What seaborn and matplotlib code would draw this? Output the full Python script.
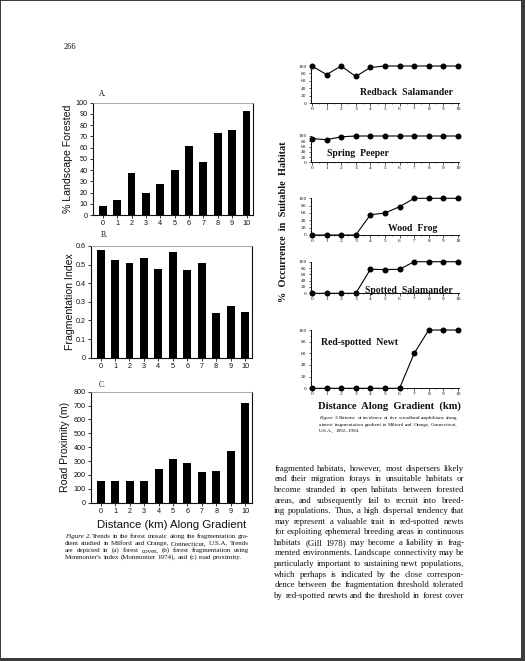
import matplotlib
matplotlib.use("Agg")
import matplotlib.pyplot as plt
from matplotlib.patches import Rectangle
from matplotlib.ticker import MultipleLocator
import seaborn as sns

W, H = 525, 661

distance = list(range(11))
forested = [8, 13, 37, 20, 28, 40, 61, 47, 73, 76, 93]
frag_index = [0.578, 0.525, 0.51, 0.533, 0.477, 0.567, 0.473, 0.51, 0.24, 0.277, 0.243]
road_prox = [155, 155, 155, 160, 245, 318, 287, 220, 225, 375, 722]

redback = [100, 77, 100, 72, 96, 100, 100, 100, 100, 100, 100]
peeper = [90, 86, 97, 100, 100, 100, 100, 100, 100, 100, 100]
wood_frog = [0, 0, 0, 0, 55, 60, 77, 100, 100, 100, 100]
spotted = [0, 0, 0, 0, 76, 75, 76, 100, 100, 100, 100]
newt = [0, 0, 0, 0, 0, 0, 0, 60, 100, 100, 100]

species = ["Redback  Salamander", "Spring  Peeper", "Wood  Frog",
           "Spotted  Salamander", "Red-spotted  Newt"]

fig2_caption = [
    "Figure 2. Trends in the forest mosaic along the fragmentation gra-",
    "dient studied in Milford and Orange, Connecticut, U.S.A. Trends",
    "are depicted in (a) forest cover, (b) forest fragmentation using",
    "Monmonier's index (Monmonier 1974), and (c) road proximity.",
]
fig3_caption = [
    "Figure 3. Patterns of incidence of five woodland amphibians along",
    "a forest fragmentation gradient in Milford and Orange, Connecticut,",
    "U.S.A., 1992\u20131994.",
]
body = [
    "fragmented habitats, however, most dispersers likely",
    "end their migration forays in unsuitable habitats or",
    "become stranded in open habitats between forested",
    "areas, and subsequently fail to recruit into breed-",
    "ing populations. Thus, a high dispersal tendency that",
    "may represent a valuable trait in red-spotted newts",
    "for exploiting ephemeral breeding areas in continuous",
    "habitats (Gill 1978) may become a liability in frag-",
    "mented environments. Landscape connectivity may be",
    "particularly important to sustaining newt populations,",
    "which perhaps is indicated by the close correspon-",
    "dence between the fragmentation threshold tolerated",
    "by red-spotted newts and the threshold in forest cover",
]

sns.set_style("ticks")
plt.rcParams["font.family"] = ["Liberation Sans", "DejaVu Sans"]

INK = "#101010"
SANS = "Liberation Sans"
SERIF = "Liberation Serif"


def fx(x):
    return x / W


def fy(y):
    return 1 - y / H


def box(l, t, r, b):
    return [fx(l), fy(b), (r - l) / W, (b - t) / H]


fig = plt.figure(figsize=(W / 100, H / 100), dpi=100, facecolor="#3c3c3c")
fig.add_artist(Rectangle((fx(1), fy(658)), fx(520), 657 / H, transform=fig.transFigure,
                         facecolor="white", edgecolor="none", zorder=-10))
renderer = fig.canvas.get_renderer()


def justified(lines, x0, x1, y0, dy, size, italic_words=0, last_ragged=True):
    # y0 is the visual middle of the first line; words sit on a common baseline
    base = size * 100 / 72 * 0.3
    for i, line in enumerate(lines):
        words = line.split()
        y = round(y0 + i * dy + base)
        items = []
        for j, w in enumerate(words):
            style = "italic" if (i == 0 and j < italic_words) else "normal"
            t = fig.text(0, fy(y), w, fontsize=size, family=SERIF, style=style,
                         color=INK, va="baseline", ha="left")
            items.append(t)
        widths = [t.get_window_extent(renderer).width for t in items]
        if last_ragged and i == len(lines) - 1:
            gap = size * 0.35
        else:
            gap = (x1 - x0 - sum(widths)) / max(len(words) - 1, 1)
        gap = max(gap, size * 0.25)
        x = x0
        for t, wd in zip(items, widths):
            t.set_x(fx(x))
            x += wd + gap


# left column: bar charts
bar_specs = [
    (forested, box(92.7, 102.7, 253, 215), (0, 100), 10, "A.", (99, 94),
     "% Landscape Forested", 68),
    (frag_index, box(90.5, 246, 251.5, 357.7), (0, 0.6), 0.1, "B.", (101, 235),
     "Fragmentation Index", 70),
    (road_prox, box(90.7, 391.7, 251.7, 502.7), (0, 800), 100, "C.", (99, 385),
     "Road Proximity (m)", 65),
]

for vals, pos, ylim, step, letter, lpos, ylab, ylx in bar_specs:
    ax = fig.add_axes(pos)
    sns.barplot(x=distance, y=vals, color="black", saturation=1, width=0.55,
                linewidth=0, ax=ax)
    ax.set_xlim(-0.7, 10.45)
    ax.set_ylim(*ylim)
    ax.yaxis.set_major_locator(MultipleLocator(step))
    if step == 0.1:
        ax.set_yticklabels([("0" if v == 0 else f"{v:.1f}") for v in ax.get_yticks()])
    ax.set_xlabel("")
    ax.set_ylabel("")
    ax.tick_params(labelsize=5.2, length=2, width=0.6, pad=1.5, colors=INK)
    for s in ax.spines.values():
        s.set_visible(True)
        s.set_linewidth(0.8)
        s.set_color(INK)
    ax.spines["top"].set_color("#9a9a9a")
    ax.spines["top"].set_linewidth(0.6)
    fig.text(fx(lpos[0]), fy(lpos[1]), letter, family=SERIF, fontsize=5.5,
             color=INK, va="center", ha="left")
    b = pos[1] * H
    t = b + pos[3] * H
    fig.text(fx(ylx), (b + t) / 2 / H, ylab, rotation=90, fontsize=7.6, family=SANS,
             color=INK, va="center", ha="center")

fig.text(fx(172), fy(524.5), "Distance (km) Along Gradient", fontsize=8.2, family=SANS,
         color=INK, va="center", ha="center")

# right column: incidence curves
line_specs = [
    (redback, box(310.5, 66, 458.7, 103.3), (360, 92.5)),
    (peeper, box(310.5, 136, 458.7, 162.3), (327, 153)),
    (wood_frog, box(310.5, 198.3, 458.7, 235), (388, 228.3)),
    (spotted, box(310.5, 261.7, 458.7, 293.3), (365, 290.5)),
    (newt, box(310.5, 330, 458.7, 388.3), (321, 342.3)),
]

for (vals, pos, tpos), name in zip(line_specs, species):
    ax = fig.add_axes(pos)
    ax.set_facecolor("none")
    sns.lineplot(x=distance, y=vals, ax=ax, color="black", linewidth=0.8,
                 marker="o", markersize=4.3, markeredgewidth=0, clip_on=False)
    ax.set_xlim(-0.1, 10.05)
    ax.set_ylim(0, 100)
    ax.set_xticks(distance)
    ax.xaxis.set_minor_locator(MultipleLocator(0.5))
    ax.set_yticks([0, 20, 40, 60, 80, 100])
    ax.yaxis.set_minor_locator(MultipleLocator(10))
    ax.set_xlabel("")
    ax.set_ylabel("")
    for s in ["top", "right"]:
        ax.spines[s].set_visible(False)
    for s in ["left", "bottom"]:
        ax.spines[s].set_linewidth(0.7)
        ax.spines[s].set_color(INK)
    ax.tick_params(which="major", labelsize=3.9, length=1.8, width=0.5, pad=1.2, colors=INK)
    ax.tick_params(which="minor", length=1.0, width=0.4, colors=INK)
    for lab in ax.get_xticklabels() + ax.get_yticklabels():
        lab.set_family(SERIF)
    fig.text(fx(tpos[0]), fy(tpos[1]), name, family=SERIF, weight="bold", fontsize=7,
             color=INK, va="center", ha="left")

fig.text(fx(283), fy(222), "%  Occurrence  in  Suitable  Habitat", rotation=90,
         family=SERIF, weight="bold", fontsize=7.4, color=INK, va="center", ha="center")
fig.text(fx(389), fy(405.7), "Distance  Along  Gradient  (km)", family=SERIF,
         weight="bold", fontsize=7.6, color=INK, va="center", ha="center")

# page text
fig.text(fx(70), fy(47), "266", family=SERIF, fontsize=6, color=INK, va="center", ha="center")
justified(fig2_caption, 65, 249, 535.7, 7.0, 5.0, italic_words=2)
justified(fig3_caption, 319, 457.5, 417.3, 6.7, 3.7, italic_words=2)
justified(body, 274.3, 464.3, 468.3, 10.56, 6.3, last_ragged=False)

fig.savefig("out.png", dpi=100, facecolor=fig.get_facecolor())
